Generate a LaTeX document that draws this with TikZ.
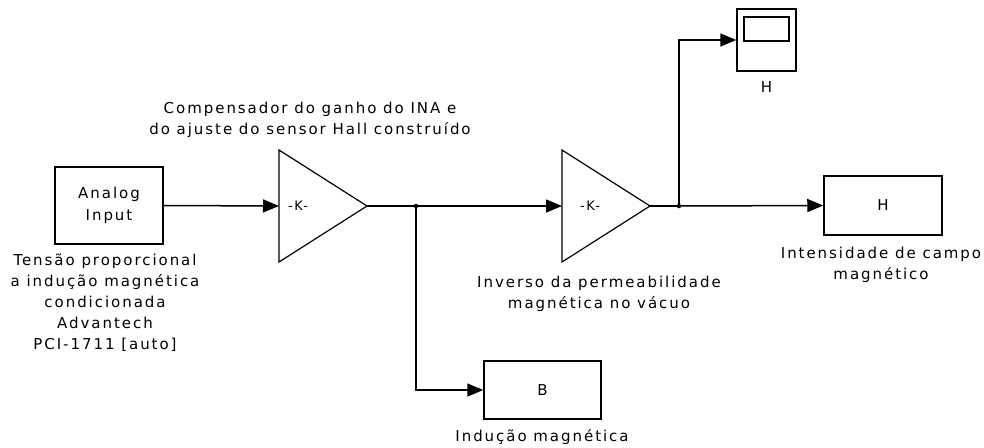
\documentclass[tikz,border=0pt]{standalone}
\usepackage{fontspec}
\setmainfont{DejaVu Sans}[LetterSpace=13]
\usetikzlibrary{arrows.meta,shapes.geometric}
\begin{document}
\begin{tikzpicture}[x=1pt,y=-1pt,
  blk/.style={draw, line width=1.5pt, rectangle, inner sep=0, align=center, font=\fontsize{15}{22}\selectfont},
  gain/.style={draw, line width=1.2pt, isosceles triangle, isosceles triangle stretches, inner sep=0, outer sep=0, minimum width=112pt, minimum height=88pt, anchor=lower side},
  lbl/.style={align=center, font=\fontsize{15}{21}\selectfont, inner sep=0},
  klbl/.style={font=\fontsize{13}{15}\selectfont, inner sep=0},
  wire/.style={line width=1.5pt, -{Triangle[length=16pt,width=13pt]}},
  line/.style={line width=1.5pt},
  dot/.style={circle, fill, inner sep=0, minimum size=4.5pt}
]
\useasboundingbox (0,0) rectangle (984,447);
% blocks
\node[blk, minimum width=108pt, minimum height=77pt] (ai) at (109,205.5) {Analog\\Input};
\node[gain] (g1) at (279,206) {};
\node[klbl] (k1) at (298,206) {-K-};
\node[gain] (g2) at (562,206) {};
\node[klbl] (k2) at (590,206) {-K-};
\node[blk, minimum width=117pt, minimum height=58pt] (bb) at (542.5,390) {B};
\node[blk, minimum width=118pt, minimum height=59pt] (hb) at (883,205.5) {H};
\node[blk, minimum width=59pt, minimum height=62pt] (sc) at (766.5,40) {};
\node[blk, line width=1.2pt, minimum width=45pt, minimum height=24pt] (sci) at (766.5,29) {};
% branch points
\node[dot] (bp1) at (416,206) {};
\node[dot] (bp2) at (679,206) {};
% wires
\draw[wire] (ai.east) -- (g1.lower side);
\draw[line] (g1.apex) -- (bp1.center);
\draw[wire] (bp1.center) -- (g2.lower side);
\draw[wire] (bp1.center) |- (bb.west);
\draw[line] (g2.apex) -- (bp2.center);
\draw[wire] (bp2.center) -- (hb.west);
\draw[wire] (bp2.center) |- (sc.west);
% labels
\node[lbl] (l1) at (310,120) {Compensador do ganho do INA e\\do ajuste do sensor Hall construído};
\node[lbl] (l2) at (105,303) {Tensão proporcional\\a indução magnética\\condicionada\\Advantech\\PCI-1711 [auto]};
\node[lbl] (l3) at (599,294) {Inverso da permeabilidade\\magnética no vácuo};
\node[lbl] (l4) at (881,265) {Intensidade de campo\\magnético};
\node[lbl] (l5) at (542,437) {Indução magnética};
\node[lbl] (l6) at (766.5,87) {H};
\end{tikzpicture}
\end{document}
